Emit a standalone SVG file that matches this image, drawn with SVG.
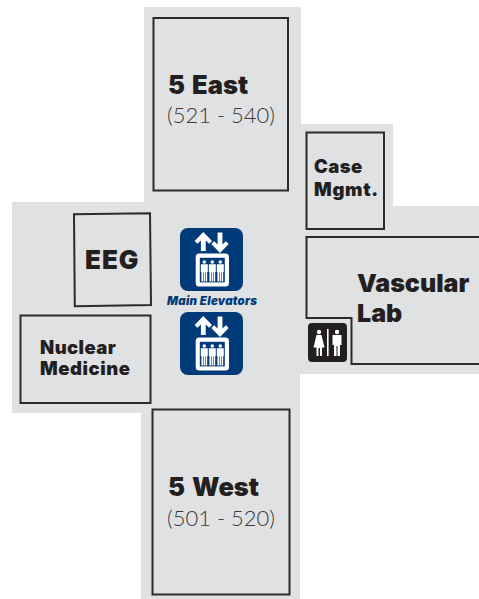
<svg xmlns="http://www.w3.org/2000/svg" xmlns:xlink="http://www.w3.org/1999/xlink" width="479" height="599" viewBox="0 0 479 599">
<style>
.room{fill:#e0e1e3;stroke:#2b2b2d;stroke-width:2}
text{fill:#231f20}
.b{font-family:"Inter","Open Sans",sans-serif;font-weight:900}
.s{font-size:18.500px;letter-spacing:.4px}
.t{font-size:25.500px;word-spacing:2px}
.l{font-family:"Lato","Open Sans",sans-serif;font-weight:300;font-size:22px;fill:#3a3839}
.w{fill:#fff}
.n{fill:#003a78}
</style>
<defs>
<g id="elev">
<rect class="n" width="63" height="63" rx="8"/>
<path class="w" d="M23.300 4L32 13 29.200 15.800 25.700 12.400V23H20.900V12.400L17.400 15.800 14.600 13Z"/>
<path class="w" d="M40 25L31.300 16 34.100 13.200 37.600 16.600V4.500H42.400V16.600L45.900 13.200 48.700 16Z"/>
<rect class="w" x="15.700" y="25.500" width="33.300" height="33" rx="3.500"/>
<rect class="n" x="19.800" y="29.800" width="25" height="24.600"/>
<g id="p">
<circle class="w" cx="24.300" cy="34" r="1.800"/>
<path class="w" d="M20.800 36.200H27.800V44H27.200V53.400H25.600V44.500H25V53.400H23.600V44.500H23V53.400H21.400V44H20.800Z"/>
</g>
<use xlink:href="#p" href="#p" x="8"/>
<use xlink:href="#p" href="#p" x="16"/>
</g>
</defs>
<path id="floor" fill="#e0e1e3" d="M144 7H301V124H393V206H479V374H300V599H141V413H12V202H144Z"/>
<g id="connectors"></g>
<g id="east">
<rect class="room" x="153.500" y="18" width="134.500" height="172.500"/>
<text class="b t" x="168" y="94">5 East</text>
<text class="l" x="167" y="123">(521 - 540)</text>
</g>
<g id="west">
<rect class="room" x="152.500" y="409.500" width="137" height="185"/>
<text class="b t" x="168" y="496">5 West</text>
<text class="l" x="167" y="526">(501 - 520)</text>
</g>
<g id="case">
<rect class="room" x="306.500" y="132.500" width="77.500" height="96.500"/>
<text class="b s" x="314" y="173">Case</text>
<text class="b s" x="314" y="196" style="letter-spacing:.7px">Mgmt.</text>
</g>
<g id="vascular">
<path class="room" d="M479 237H306.500V318H351.500V364H479"/>
<text class="b" x="357" y="292" font-size="25">Vascular</text>
<text class="b" x="357" y="322" font-size="25">Lab</text>
</g>
<g id="eeg">
<path class="room" d="M74 214.300L150 213.300 151 305 74.800 306.300Z"/>
<text class="b" x="85" y="269" font-size="26" letter-spacing="1">EEG</text>
</g>
<g id="nuclear">
<rect class="room" x="20.500" y="315.500" width="130" height="87.500"/>
<text class="b s" x="40" y="354">Nuclear</text>
<text class="b s" x="40" y="375" style="letter-spacing:.55px">Medicine</text>
</g>
<g id="elevators">
<use xlink:href="#elev" href="#elev" x="180" y="228"/>
<use xlink:href="#elev" href="#elev" x="180" y="312"/>
<text class="b" x="167" y="305" font-size="11.500" font-style="italic" letter-spacing=".25" style="fill:#003a78">Main Elevators</text>
</g>
<g id="restroom">
<rect x="308" y="323" width="39" height="39" rx="4" fill="#231f20"/>
<circle class="w" cx="319" cy="332" r="2.200"/>
<path class="w" d="M316.500 335H321.500L324.500 347.500H322V356H320V348H318.500V356H316.500V347.500H313.500Z"/>
<rect class="w" x="327" y="329" width="1.600" height="27"/>
<circle class="w" cx="337" cy="332" r="2.200"/>
<path class="w" d="M332.500 335H341.500V345H340V356H337.500V346H336.500V356H334V345H332.500Z"/>
</g>
</svg>
